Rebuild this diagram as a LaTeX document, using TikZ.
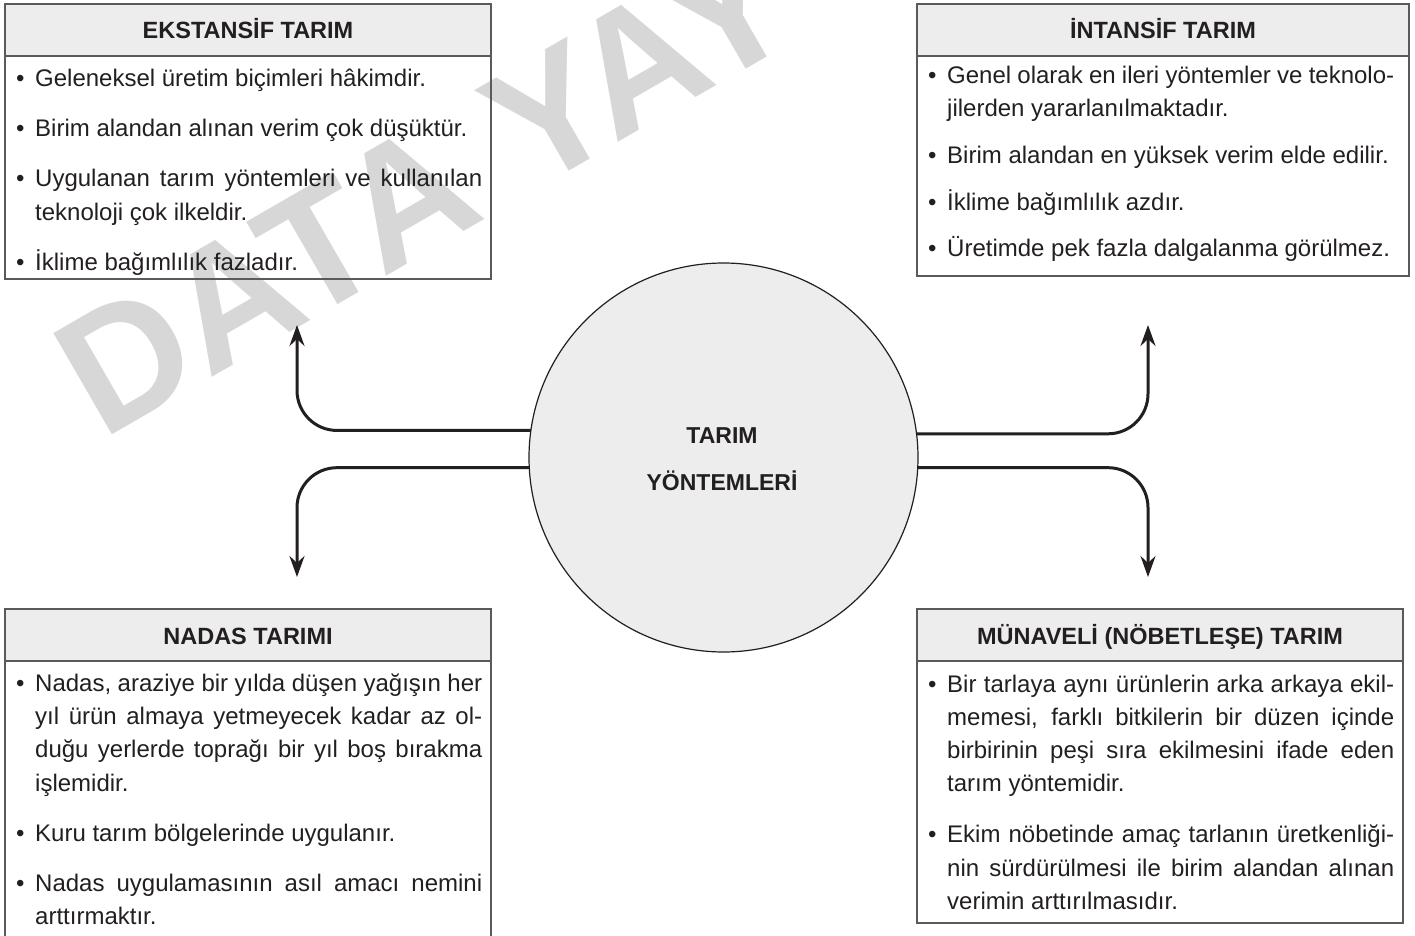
\documentclass[tikz,border=0pt]{standalone}
\usepackage{fontspec}
\setmainfont{Liberation Sans}
\usetikzlibrary{arrows.meta}

\definecolor{yazi}{HTML}{231F20}
\definecolor{cizgi}{HTML}{5A5A5A}
\definecolor{dolgu}{HTML}{EDEDED}
\definecolor{silik}{HTML}{D7D7D7}

\newcommand{\madde}[1]{\noindent\hangindent=19pt\hangafter=1\strut\makebox[19pt][l]{•}#1\par}
\newcommand{\ara}[1][16.7pt]{\par\vspace{#1}}

\hyphenpenalty=10000
\exhyphenpenalty=10000

\tikzset{
	kutu/.style={draw=cizgi, line width=1.3pt},
	baslik/.style={anchor=base, text=yazi, font=\bfseries\fontsize{23.5}{28}\selectfont},
	govde/.style={anchor=north west, inner sep=0pt, text width=466pt, align=justify, text=yazi, font=\fontsize{24}{33.3}\selectfont},
	merkezdaire/.style={circle, draw=yazi, line width=1.2pt, fill=dolgu, minimum size=389pt, inner sep=0pt, outer sep=0pt},
	ortayazi/.style={anchor=base, text=yazi, font=\bfseries\fontsize{23}{28}\selectfont},
	baglanti/.style={draw=yazi, line width=3pt, rounded corners=40pt, -{Stealth[length=21pt, width=15pt, inset=7pt]}},
	filigran/.style={anchor=base west, inner sep=0pt, rotate=30, text=silik, font=\bfseries\fontsize{170}{170}\selectfont}
}

\begin{document}
\begin{tikzpicture}[x=1pt, y=-1pt]
		\useasboundingbox (0,0) rectangle (1415,936);
		\clip (0,0) rectangle (1415,936);
		\fill[white] (0,0) rectangle (1415,936);
		
		\node[filigran] (filigran) at (102,441) {DATA YAY};
		
		\filldraw[kutu, fill=dolgu] (5,4) rectangle (491,56);
		\draw[kutu] (5,4) rectangle (491,279);
		\filldraw[kutu, fill=dolgu] (917,4) rectangle (1409,56);
		\draw[kutu] (917,4) rectangle (1409,276);
		\filldraw[kutu, fill=dolgu] (5,609) rectangle (491,661);
		\draw[kutu] (5,609) rectangle (491,960);
		\filldraw[kutu, fill=dolgu] (917,609) rectangle (1403,661);
		\draw[kutu] (917,609) rectangle (1403,923);
		
		\node[baslik] (ek-baslik) at (248,39) {EKSTANSİF TARIM};
		\node[baslik] (in-baslik) at (1163,39) {İNTANSİF TARIM};
		\node[baslik] (na-baslik) at (248,644) {NADAS TARIMI};
		\node[baslik] (mu-baslik) at (1160,644) {MÜNAVELİ (NÖBETLEŞE) TARIM};
		
		\node[govde] (ek-metin) at (16,63.2) {%
			\madde{Geleneksel üretim biçimleri hâkimdir.}\ara
			\madde{Birim alandan alınan verim çok düşüktür.}\ara
			\madde{Uygulanan tarım yöntemleri ve kullanılan\linebreak teknoloji çok ilkeldir.}\ara
			\madde{İklime bağımlılık fazladır.}};
		\node[govde] (in-metin) at (928,59.7) {%
			\madde{Genel olarak en ileri yöntemler ve teknolo-\linebreak jilerden yararlanılmaktadır.}\ara[13.5pt]
			\madde{Birim alandan en yüksek verim elde edilir.}\ara[13.5pt]
			\madde{İklime bağımlılık azdır.}\ara[13.5pt]
			\madde{Üretimde pek fazla dalgalanma görülmez.}};
		\node[govde] (na-metin) at (16,667.7) {%
			\madde{Nadas, araziye bir yılda düşen yağışın her\linebreak yıl ürün almaya yetmeyecek kadar az ol-\linebreak duğu yerlerde toprağı bir yıl boş bırakma\linebreak işlemidir.}\ara
			\madde{Kuru tarım bölgelerinde uygulanır.}\ara
			\madde{Nadas uygulamasının asıl amacı nemini\linebreak arttırmaktır.}};
		\node[govde] (mu-metin) at (928,668.5) {%
			\madde{Bir tarlaya aynı ürünlerin arka arkaya ekil-\linebreak memesi, farklı bitkilerin bir düzen içinde\linebreak birbirinin peşi sıra ekilmesini ifade eden\linebreak tarım yöntemidir.}\ara[17.5pt]
			\madde{Ekim nöbetinde amaç tarlanın üretkenliği-\linebreak nin sürdürülmesi ile birim alandan alınan\linebreak verimin arttırılmasıdır.}};
		
		\node[merkezdaire] (merkez) at (723.5,457.5) {};
		\node[ortayazi] (tarim) at (722,443) {TARIM};
		\node[ortayazi] (yontem) at (722,490) {YÖNTEMLERİ};
		
		\coordinate (ek-ok) at (297,325);
		\coordinate (in-ok) at (1148,325);
		\coordinate (na-ok) at (297,577);
		\coordinate (mu-ok) at (1148,577);
		
		\draw[baglanti] (merkez.172.5) -| (ek-ok);
		\draw[baglanti] (merkez.183.7) -| (na-ok);
		\draw[baglanti] (merkez.7.5) -| (in-ok);
		\draw[baglanti] (merkez.-3.7) -| (mu-ok);
\end{tikzpicture}
\end{document}
